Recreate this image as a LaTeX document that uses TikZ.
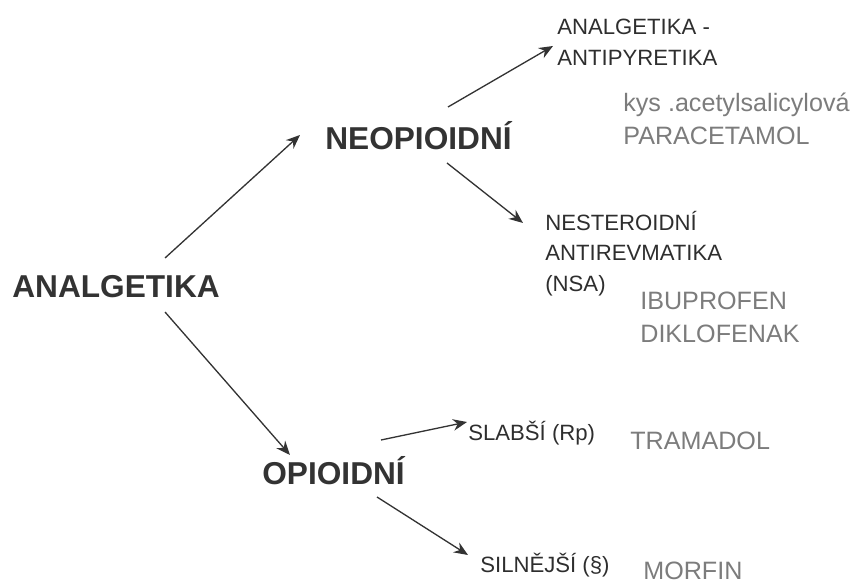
\documentclass[tikz,border=0pt]{standalone}
\usepackage{fontspec}
\setmainfont{Liberation Sans}
\usetikzlibrary{arrows.meta,positioning}
\definecolor{ink}{HTML}{333333}
\definecolor{druggray}{HTML}{7C7C7C}
\tikzset{
  head/.style={inner sep=0pt, text=ink, font=\fontsize{18}{22}\selectfont\bfseries},
  sub/.style={inner sep=0pt, align=left, text=ink!90!black,
              font=\fontsize{12.6}{17.5}\selectfont},
  drug/.style={inner sep=0pt, align=left, text=druggray,
               font=\fontsize{14.3}{18.8}\selectfont},
  arrow/.style={-{Stealth[length=2.8mm, width=2.3mm]}, ink, line width=0.75pt}
}

\begin{document}
\begin{tikzpicture}
  \useasboundingbox (0,0) rectangle (17.26,-11.7);
  \node[head, anchor=base west] (analg) at (0.24,-5.96) {ANALGETIKA};
  \node[head, anchor=base west] (neo) at (6.5,-3.0) {NEOPIOIDNÍ};
  \node[head, anchor=base west] (opio) at (5.24,-9.68) {OPIOIDNÍ};
  \node[sub, anchor=west] (antipy) at (11.14,-0.84) {ANALGETIKA -\\ANTIPYRETIKA};
  \node[drug, anchor=west] (paracet) at (12.46,-2.38) {kys .acetylsalicylová\\PARACETAMOL};
  \node[sub, anchor=west] (nsa) at (10.9,-5.07) {NESTEROIDNÍ\\ANTIREVMATIKA\\(NSA)};
  \node[drug, anchor=west] (ibu) at (12.8,-6.35) {IBUPROFEN\\DIKLOFENAK};
  \node[sub, anchor=base west] (slab) at (9.36,-8.8) {SLABŠÍ\ (Rp)};
  \node[drug, anchor=base west] (tram) at (12.6,-9.0) {TRAMADOL};
  \node[sub, anchor=base west] (siln) at (9.6,-11.44) {SILNĚJŠÍ (§)};
  \node[drug, anchor=base west] (morf) at (12.86,-11.58) {MORFIN};
  \draw[arrow] ([shift={(3.06,0.8)}]analg.base west) -- ([shift={(-0.5,0.3)}]neo.base west);
  \draw[arrow] ([shift={(3.06,-0.28)}]analg.base west) -- ([shift={(0.56,0.58)}]opio.base west);
  \draw[arrow] ([shift={(2.46,0.86)}]neo.base west) -- ([shift={(-0.08,-0.08)}]antipy.west);
  \draw[arrow] ([shift={(2.44,-0.26)}]neo.base west) -- ([shift={(-0.44,0.61)}]nsa.west);
  \draw[arrow] ([shift={(2.38,0.88)}]opio.base west) -- ([shift={(-0.02,0.36)}]slab.base west);
  \draw[arrow] ([shift={(2.30,-0.26)}]opio.base west) -- ([shift={(-0.24,0.34)}]siln.base west);
\end{tikzpicture}
\end{document}
